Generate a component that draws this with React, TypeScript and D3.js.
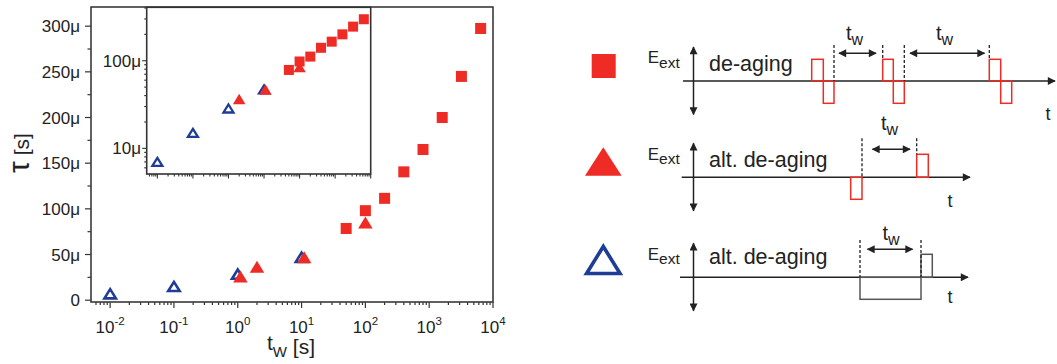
import React from "react";
import * as d3 from "d3";

// Relaxation time τ (μs) versus waiting time t_w (s)
const deAgingTw = [50, 100, 200, 400, 800, 1600, 3200, 6400];
const deAgingTau = [78.5, 98, 111.5, 140.5, 165, 200, 245, 297.5];

const altTw = [1.1, 2, 11, 100];
const altTau = [26, 36.5, 47, 85];

const altNegTw = [0.01, 0.1, 1, 10];
const altNegTau = [7, 15, 28.5, 47];

// the inset leaves out the first alt. de-aging point
const insetAltTw = altTw.slice(1);
const insetAltTau = altTau.slice(1);

const yTickValues = [0, 50, 100, 150, 200, 250, 300];
const yTickLabels = ["0", "50μ", "100μ", "150μ", "200μ", "250μ", "300μ"];
const insetYTickValues = [10, 100];
const insetYTickLabels = ["10μ", "100μ"];
const xTickExponents = [-2, -1, 0, 1, 2, 3, 4];

const RED = "#ee2b24";
const BLUE = "#1f3c96";
const FONT = "'Liberation Sans', Arial, Helvetica, sans-serif";

const W = 1057;
const H = 364;

const isDecade = (v: number) => Math.abs(Math.log10(v) - Math.round(Math.log10(v))) < 1e-6;

function triPath(cx: number, cy: number, w: number, h: number) {
  return `M${cx},${cy - h / 2}L${cx + w / 2},${cy + h / 2}L${cx - w / 2},${cy + h / 2}Z`;
}

function MainPlot() {
  const x = d3.scaleLog().domain([10 ** -2.3, 1e4]).range([91, 493]);
  const y = d3.scaleLinear().domain([-2, 321]).range([302, 7]);
  const [x0, x1] = x.range();
  const [yb, yt] = y.range();
  const xTicks = x.ticks();
  const yMinor = d3.range(25, 321, 50);

  return (
    <g>
      {/* x ticks */}
      {xTicks.map((t, i) => (
        <line key={"xt" + i} x1={x(t)} x2={x(t)} y1={yb} y2={yb + (isDecade(t) ? 6 : 3)} stroke="#333" strokeWidth={1.2} />
      ))}
      {xTickExponents.map((e) => (
        <text key={"xl" + e} x={x(10 ** e)} y={332.5} textAnchor="middle" fontSize={17} fill="#222">
          10<tspan fontSize={11.5} dy={-7.5}>{e}</tspan>
        </text>
      ))}
      {/* y ticks */}
      {yTickValues.map((v, i) => (
        <g key={"yt" + v}>
          <line x1={x0 - 6} x2={x0} y1={y(v)} y2={y(v)} stroke="#333" strokeWidth={1.2} />
          <text x={80} y={y(v) + 6} textAnchor="end" fontSize={17} fill="#222">{yTickLabels[i]}</text>
        </g>
      ))}
      {yMinor.map((v) => (
        <line key={"ym" + v} x1={x0 - 3.5} x2={x0} y1={y(v)} y2={y(v)} stroke="#333" strokeWidth={1.2} />
      ))}
      {/* frame */}
      <rect x={x0} y={yt} width={x1 - x0} height={yb - yt} fill="none" stroke="#3a3a3a" strokeWidth={1.6} />

      {/* open blue triangles */}
      {altNegTw.map((t, i) => (
        <path key={"bn" + i} d={triPath(x(t), y(altNegTau[i]), 11.5, 9.2)} fill="none" stroke={BLUE} strokeWidth={2.6} />
      ))}
      {/* filled red triangles */}
      {altTw.map((t, i) => (
        <path key={"rt" + i} d={triPath(x(t), y(altTau[i]), 14.5, 12)} fill={RED} />
      ))}
      {/* red squares */}
      {deAgingTw.map((t, i) => (
        <rect key={"sq" + i} x={x(t) - 5.5} y={y(deAgingTau[i]) - 5.5} width={11} height={11} fill={RED} />
      ))}

      {/* axis titles */}
      <text transform="translate(29,153) rotate(-90)" textAnchor="middle" fill="#222">
        <tspan fontSize={30}>τ</tspan>
        <tspan fontSize={21}> [s]</tspan>
      </text>
      <text x={267} y={350} fontSize={21} fill="#222">
        t<tspan fontSize={15} dy={7}>W</tspan>
        <tspan dy={-3} fontSize={21}> [s]</tspan>
      </text>
    </g>
  );
}

function InsetPlot() {
  const x = d3.scaleLog().domain([10 ** -2.3, 1e4]).range([146.7, 370.7]);
  const y = d3.scaleLog().domain([5.1, 407]).range([174, 7.3]);
  const [x0, x1] = x.range();
  const [yb, yt] = y.range();
  const xTicks = x.ticks();
  const yTicks = y.ticks();

  return (
    <g>
      <rect x={x0} y={yt} width={x1 - x0} height={yb - yt} fill="#fff" />
      {xTicks.map((t, i) => (
        <line key={"ixt" + i} x1={x(t)} x2={x(t)} y1={yb} y2={yb + (isDecade(t) ? 4.5 : 2.5)} stroke="#333" strokeWidth={1.1} />
      ))}
      {yTicks.map((t, i) => (
        <line key={"iyt" + i} x1={x0 - (isDecade(t) ? 4.5 : 2.5)} x2={x0} y1={y(t)} y2={y(t)} stroke="#333" strokeWidth={1.1} />
      ))}
      {insetYTickValues.map((v, i) => (
        <text key={"iyl" + v} x={141} y={y(v) + 6} textAnchor="end" fontSize={17} fill="#222">{insetYTickLabels[i]}</text>
      ))}
      <rect x={x0} y={yt} width={x1 - x0} height={yb - yt} fill="none" stroke="#333" strokeWidth={1.6} />

      {altNegTw.map((t, i) => (
        <path key={"ibn" + i} d={triPath(x(t), y(altNegTau[i]), 10, 8)} fill="none" stroke={BLUE} strokeWidth={2.3} />
      ))}
      {insetAltTw.map((t, i) => (
        <path key={"irt" + i} d={triPath(x(t), y(insetAltTau[i]), 12.5, 10.5)} fill={RED} />
      ))}
      {deAgingTw.map((t, i) => (
        <rect key={"isq" + i} x={x(t) - 5} y={y(deAgingTau[i]) - 5} width={10} height={10} fill={RED} />
      ))}
    </g>
  );
}

// Pulse protocols: each step has a start, an end and a level (+1 up, -1 down)
type Step = { a: number; b: number; level: number };
type Protocol = {
  axisY: number;
  axisX0: number;
  axisX1: number;
  labelY: number;
  tLabel: [number, number];
  label: string;
  pulses: Step[];
  color: string;
  amp: [number, number];
  dashes: { x: number; top: number; bottom: number }[];
  spans: { a: number; b: number; y: number; lx: number; ly: number }[];
};

const protocols: Protocol[] = [
  {
    axisY: 81, axisX0: 683, axisX1: 1057, labelY: 71, tLabel: [1045.5, 120], label: "de-aging",
    color: RED, amp: [21.7, 22.3],
    pulses: [
      { a: 811.7, b: 823.3, level: 1 }, { a: 823.3, b: 834, level: -1 },
      { a: 882.7, b: 893.3, level: 1 }, { a: 893.3, b: 904.3, level: -1 },
      { a: 989.3, b: 1000.7, level: 1 }, { a: 1000.7, b: 1011.7, level: -1 },
    ],
    dashes: [
      { x: 834, top: 45, bottom: 81 }, { x: 882.7, top: 45, bottom: 59.3 },
      { x: 904.3, top: 45, bottom: 81 }, { x: 989.3, top: 45, bottom: 59.3 },
    ],
    spans: [
      { a: 838, b: 877, y: 53.3, lx: 846, ly: 39.5 },
      { a: 909, b: 985.5, y: 53.3, lx: 936, ly: 39.5 },
    ],
  },
  {
    axisY: 177.3, axisX0: 681.7, axisX1: 972, labelY: 166.7, tLabel: [947.5, 207], label: "alt. de-aging",
    color: RED, amp: [23, 22],
    pulses: [
      { a: 850.7, b: 862, level: -1 },
      { a: 916.7, b: 928.3, level: 1 },
    ],
    dashes: [
      { x: 862, top: 138.3, bottom: 177.3 }, { x: 916.7, top: 138.3, bottom: 154.3 },
    ],
    spans: [{ a: 871.5, b: 911, y: 149.3, lx: 881, ly: 129.5 }],
  },
  {
    axisY: 277.3, axisX0: 680, axisX1: 970, labelY: 264.3, tLabel: [947.5, 303.3], label: "alt. de-aging",
    color: "#555", amp: [23, 22],
    pulses: [
      { a: 860, b: 921, level: -1 },
      { a: 921, b: 932.3, level: 1 },
    ],
    dashes: [
      { x: 860, top: 240, bottom: 277.3 }, { x: 921, top: 240, bottom: 277.3 },
    ],
    spans: [{ a: 866.5, b: 913.5, y: 249.3, lx: 882.5, ly: 239.5 }],
  },
];

const legendY = [66, 161.5, 260];

function Schematic({ p, idx }: { p: Protocol; idx: number }) {
  return (
    <g>
      {/* time axis */}
      <line x1={p.axisX0} x2={p.axisX1 - 2} y1={p.axisY} y2={p.axisY} stroke="#222" strokeWidth={1.5} markerEnd="url(#ah)" />
      {/* field axis */}
      <line x1={693.5} x2={693.5} y1={p.axisY - 34} y2={p.axisY + 33.5} stroke="#222" strokeWidth={1.5} markerStart="url(#ah)" markerEnd="url(#ah)" />
      <text x={647.7} y={p.axisY - 17.7} fontSize={17} fill="#222">
        E<tspan fontSize={15.5} dy={4.4}>ext</tspan>
      </text>
      <text x={709} y={p.labelY} fontSize={21.5} fill="#222">{p.label}</text>
      <text x={p.tLabel[0]} y={p.tLabel[1]} fontSize={18} fill="#222">t</text>
      {p.pulses.map((s, i) => (
        <rect key={i} x={s.a} y={s.level > 0 ? p.axisY - p.amp[0] : p.axisY} width={s.b - s.a}
          height={s.level > 0 ? p.amp[0] : p.amp[1]} fill="none" stroke={p.color} strokeWidth={1.5} />
      ))}
      {p.dashes.map((d, i) => (
        <line key={"d" + i} x1={d.x} x2={d.x} y1={d.top} y2={d.bottom} stroke="#222" strokeWidth={1.3} strokeDasharray="3,2" />
      ))}
      {p.spans.map((s, i) => (
        <g key={"s" + i}>
          <line x1={s.a + 1} x2={s.b - 1} y1={s.y} y2={s.y} stroke="#222" strokeWidth={1.5} markerStart="url(#ah)" markerEnd="url(#ah)" />
          <text x={s.lx} y={s.ly} fontSize={20} fill="#222">
            t<tspan fontSize={16} dy={5.5}>w</tspan>
          </text>
        </g>
      ))}
    </g>
  );
}

function Legend() {
  return (
    <g>
      <rect x={591.7} y={legendY[0] - 12} width={24} height={24} fill={RED} />
      <path d={triPath(603.3, legendY[1], 36.7, 28.4)} fill={RED} />
      <path d={triPath(603.3, legendY[2], 33.5, 27)} fill="none" stroke={BLUE} strokeWidth={3.6} />
    </g>
  );
}

export default function App() {
  return (
    <div style={{ position: "absolute", left: 0, top: 0 }}>
      <svg width={W} height={H} viewBox={`0 0 ${W} ${H}`} style={{ display: "block", fontFamily: FONT }}>
        <defs>
          <marker id="ah" viewBox="0 0 10 10" refX={9} refY={5} markerWidth={9} markerHeight={8}
            markerUnits="userSpaceOnUse" orient="auto-start-reverse">
            <path d="M0,0L10,5L0,10Z" fill="#222" />
          </marker>
        </defs>
        <rect width={W} height={H} fill="#fff" />
        <MainPlot />
        <InsetPlot />
        <Legend />
        {protocols.map((p, i) => (
          <Schematic key={i} p={p} idx={i} />
        ))}
      </svg>
    </div>
  );
}
